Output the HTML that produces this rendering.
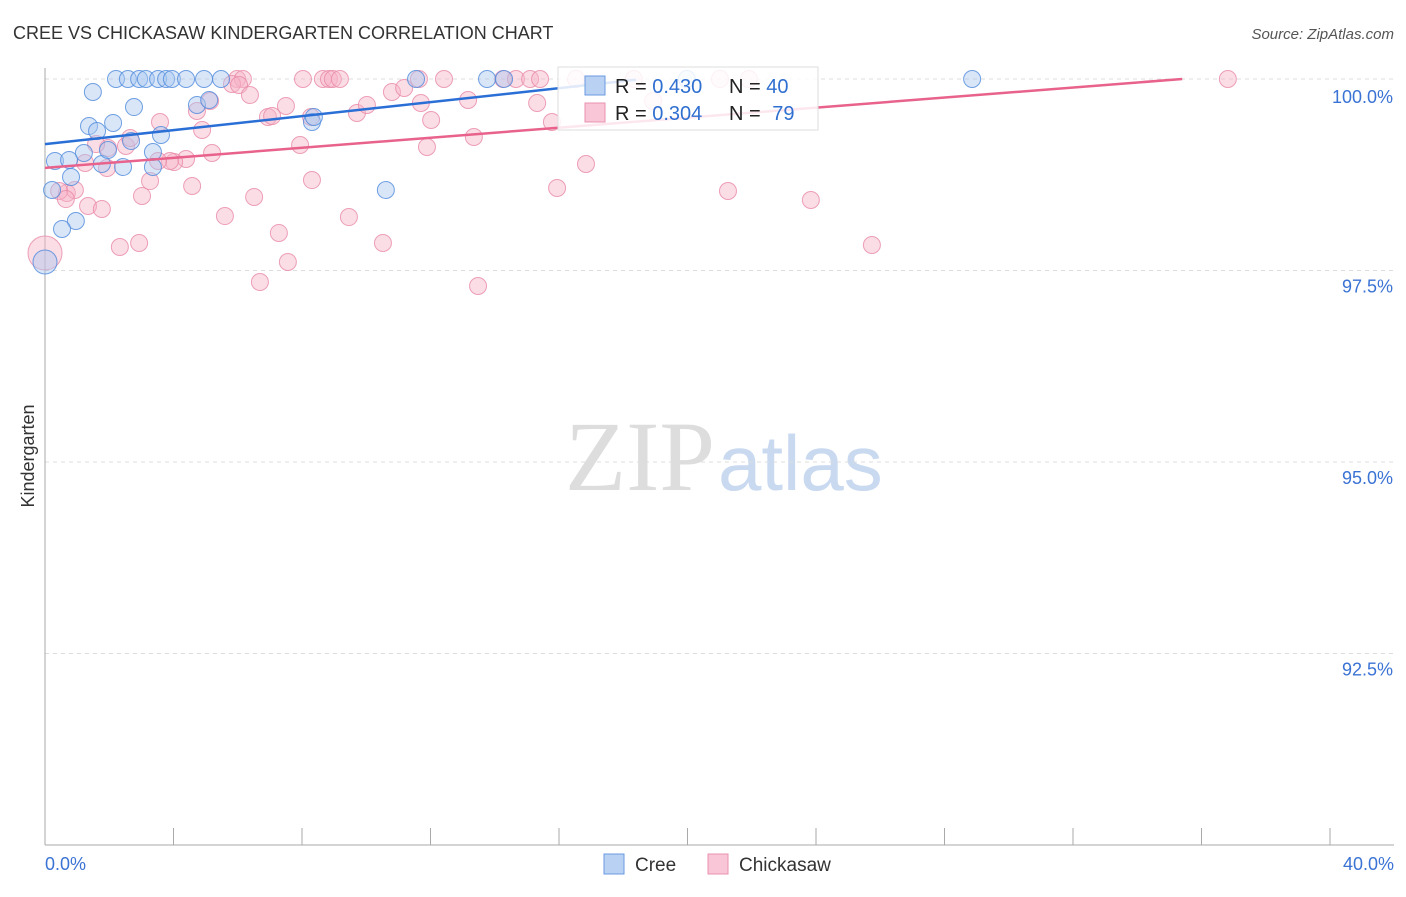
<!DOCTYPE html>
<html><head><meta charset="utf-8"><style>
body{margin:0;background:#fff;font-family:"Liberation Sans",sans-serif}
</style></head><body>
<svg id="c" width="1406" height="892" xmlns="http://www.w3.org/2000/svg">
<text x="13" y="39" font-size="18" fill="#333">CREE VS CHICKASAW KINDERGARTEN CORRELATION CHART</text>
<text x="1394" y="39" font-size="15" fill="#555" text-anchor="end" font-style="italic">Source: ZipAtlas.com</text>
<text x="715" y="490" font-size="100" fill="#ddd" text-anchor="end" font-family="Liberation Serif">ZIP</text>
<text x="718" y="490" font-size="78" fill="#c9d9f0">atlas</text>
<text x="34" y="456" font-size="18" fill="#333" transform="rotate(-90 34 456)" text-anchor="middle">Kindergarten</text>
<g id="grid"></g><g id="pts"></g><g id="lines"></g>
<g>
<rect x="558" y="67" width="260" height="63" fill="#fff" fill-opacity="0.85" stroke="#ddd"/>
<rect x="585" y="76" width="20" height="19" fill="#b9d2f3" stroke="#6a9ae0"/>
<text x="615" y="93" font-size="20" fill="#222">R = <tspan fill="#2f6fd0">0.430</tspan></text>
<text x="729" y="93" font-size="20" fill="#222">N = <tspan fill="#2f6fd0">40</tspan></text>
<rect x="585" y="103" width="20" height="19" fill="#f8c6d6" stroke="#ea90ad"/>
<text x="615" y="120" font-size="20" fill="#222">R = <tspan fill="#2f6fd0">0.304</tspan></text>
<text x="729" y="120" font-size="20" fill="#222">N = <tspan fill="#2f6fd0" dx="6">79</tspan></text>
</g>
<g>
<rect x="604" y="854" width="20" height="20" fill="#b9d2f3" stroke="#6a9ae0"/>
<text x="635" y="871" font-size="19" fill="#333">Cree</text>
<rect x="708" y="854" width="20" height="20" fill="#f8c6d6" stroke="#ea90ad"/>
<text x="739" y="871" font-size="19" fill="#333">Chickasaw</text>
</g>
</svg>
<script>
const yTicks=[100,97.5,95,92.5];
const yTickLabels=["100.0%","97.5%","95.0%","92.5%"];
const xTickVals=[0,4,8,12,16,20,24,28,32,36,40];
const xEndLabels=["0.0%","40.0%"];
const creePx=[[116,79],[128,79],[139,79],[146,79],[158,79],[166,79],[172,79],[186,79],[204,79],[221,79],[416,79],[487,79],[504,79],[972,79],[687,79],[93,92],[134,107],[197,105],[209,100],[89,126],[113,123],[97,131],[161,135],[131,141],[84,153],[153,152],[55,161],[69,160],[102,164],[123,167],[153,167],[71,177],[312,122],[314,117],[108,150],[52,190],[386,190],[76,221],[62,229],[45,262]];
const chickPx=[[45,253],[237,79],[243,79],[303,79],[323,79],[329,79],[333,79],[340,79],[419,79],[444,79],[503,79],[516,79],[530,79],[576,79],[634,79],[720,79],[749,79],[1228,79],[232,84],[239,85],[250,95],[210,101],[197,111],[286,106],[268,117],[272,116],[311,117],[357,113],[367,105],[392,92],[404,88],[421,103],[431,120],[468,100],[537,103],[552,122],[474,137],[427,147],[300,145],[160,122],[202,130],[108,148],[96,144],[126,146],[130,138],[186,159],[174,162],[170,161],[158,161],[85,163],[107,168],[212,153],[150,181],[192,186],[142,196],[254,197],[67,193],[75,190],[59,191],[66,199],[88,206],[102,209],[312,180],[349,217],[225,216],[279,233],[120,247],[139,243],[383,243],[288,262],[260,282],[478,286],[557,188],[586,164],[728,191],[811,200],[872,245],[653,101],[540,79]];
const creeX=creePx.map(p=>+((p[0]-45)*40/1285).toFixed(2));
const creeY=creePx.map(p=>+(100-(p[1]-79)*2.5/191.5).toFixed(3));
const chickX=chickPx.map(p=>+((p[0]-45)*40/1285).toFixed(2));
const chickY=chickPx.map(p=>+(100-(p[1]-79)*2.5/191.5).toFixed(3));
const creeTrend=[[0,99.15],[18.4,99.99]];
const chickTrend=[[0,98.84],[35.4,100]];
const X=v=>45+v*1285/40, Y=v=>79+(100-v)*191.5/2.5;
const NS="http://www.w3.org/2000/svg";
function mk(t,a,p){const e=document.createElementNS(NS,t);for(const k in a)e.setAttribute(k,a[k]);p.appendChild(e);return e;}
const g=document.getElementById('grid');
yTicks.forEach((t,i)=>{
 const l=mk('line',{x1:45,x2:1394,y1:Y(t),y2:Y(t),stroke:'#ddd','stroke-dasharray':'4,4'},g);
 
 
 const tx=mk('text',{x:1393,y:Y(t)+(i==0?24:22),'font-size':18,fill:'#3b73d4','text-anchor':'end'},g);
 tx.textContent=yTickLabels[i];
 
 
});
const ax=mk('line',{x1:45,x2:45,y1:68,y2:845,stroke:'#aaa'},g);


const bx=mk('line',{x1:45,x2:1394,y1:845,y2:845,stroke:'#aaa'},g);


xTickVals.forEach(v=>{const t=mk('line',{x1:X(v),x2:X(v),y1:828,y2:845,stroke:'#aaa'},g);
 
 });
[[0,'start',45],[40,'end',1394]].forEach((a,i)=>{const t=mk('text',{x:a[2],y:870,'font-size':18,fill:'#3b73d4','text-anchor':a[1]},g);t.textContent=xEndLabels[i];
 
 });
const P=document.getElementById('pts');
function pts(xs,ys,fill,stroke,name,bigR){xs.forEach((x,i)=>{const big=(x<0.1&&ys[i]<97.9);const c=mk('circle',{cx:X(x),cy:Y(ys[i]),r:big?bigR:8.5,fill:fill,'fill-opacity':0.45,stroke:stroke,'stroke-opacity':0.8},P);
 
 });}
pts(chickX,chickY,'#f6b4c8','#e88aa8','chickasaw-point',17);
pts(creeX,creeY,'#a9c8f0','#4f89dc','cree-point',12);
const L=document.getElementById('lines');
const l1=mk('line',{x1:X(creeTrend[0][0]),y1:Y(creeTrend[0][1]),x2:X(creeTrend[1][0]),y2:Y(creeTrend[1][1]),stroke:'#2a6fd6','stroke-width':2.5},L);


const l2=mk('line',{x1:X(chickTrend[0][0]),y1:Y(chickTrend[0][1]),x2:X(chickTrend[1][0]),y2:Y(chickTrend[1][1]),stroke:'#e8628c','stroke-width':2.5},L);


</script>
</body></html>
